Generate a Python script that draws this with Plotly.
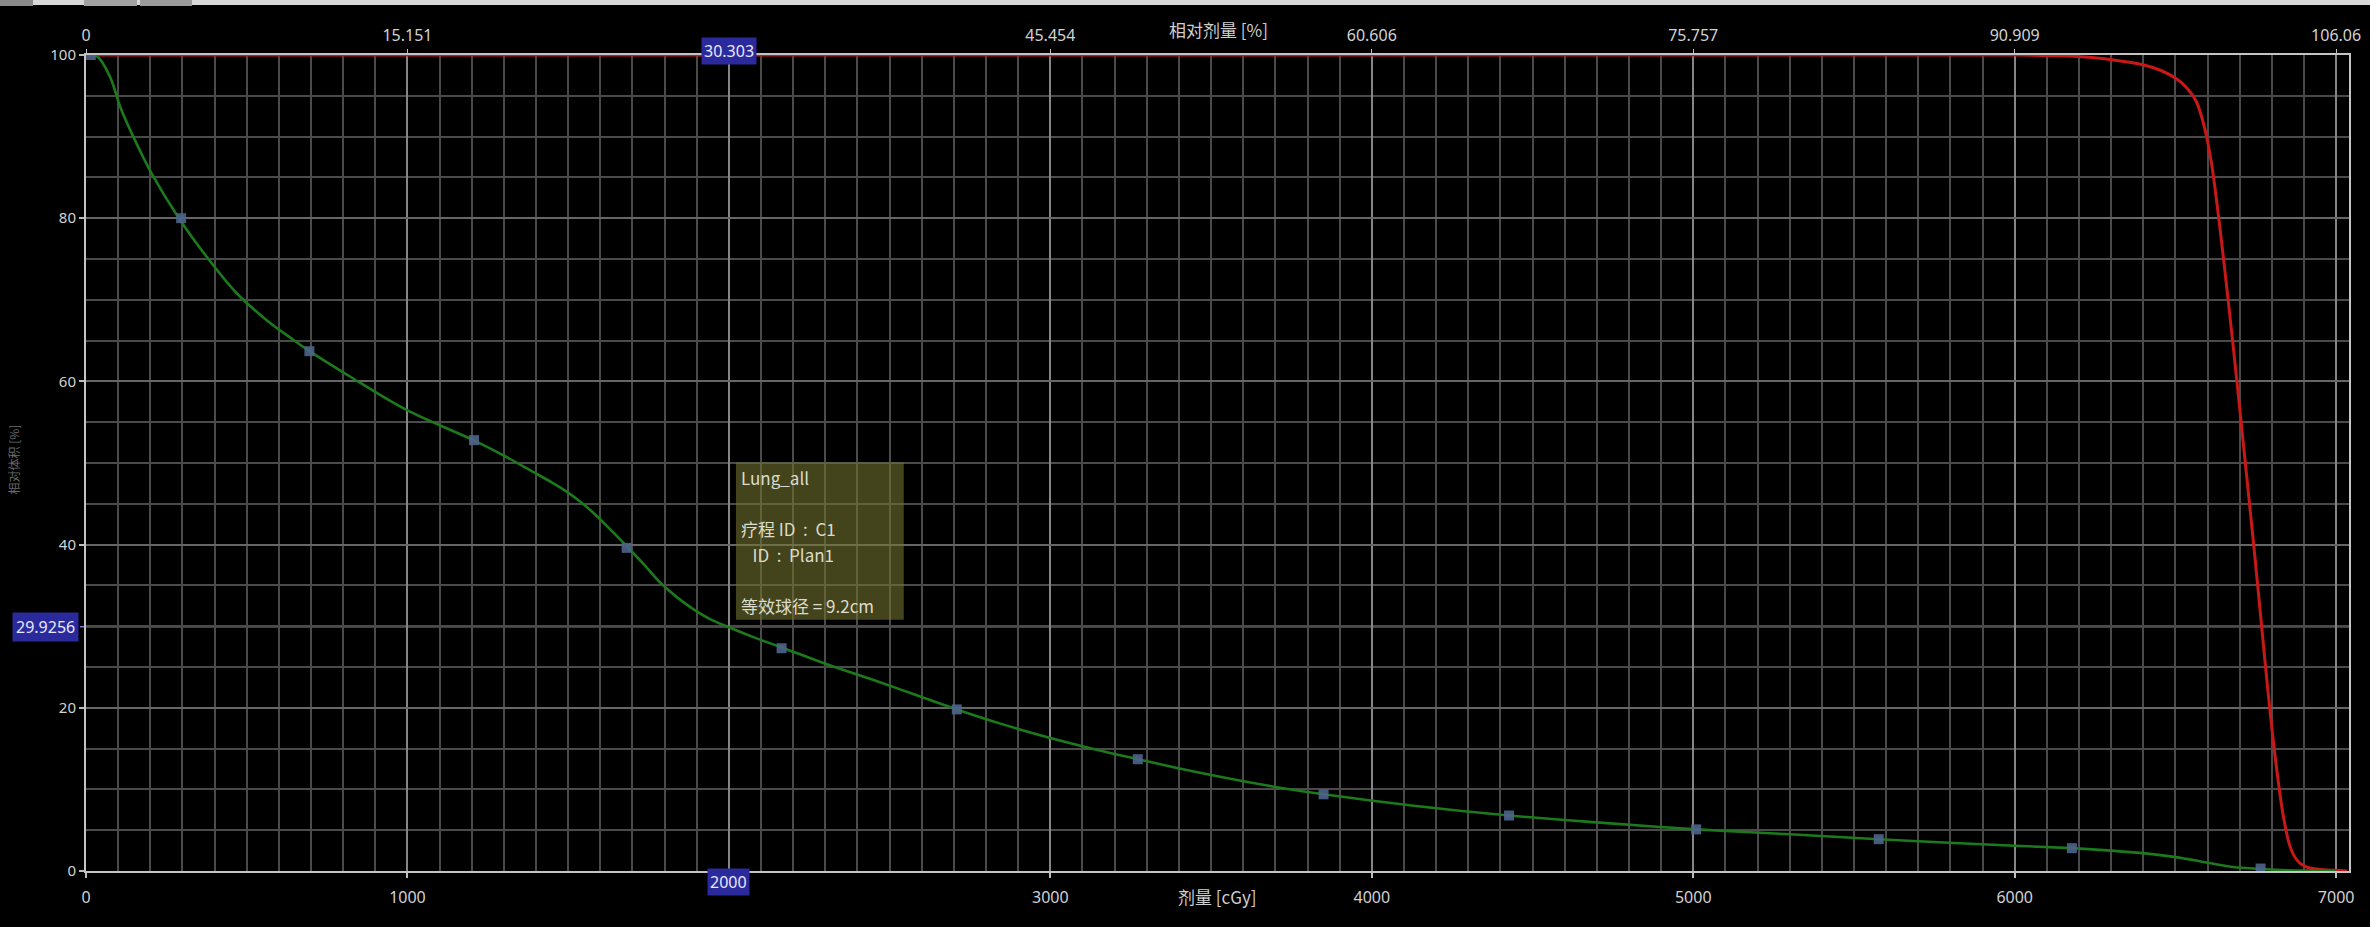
import plotly.graph_objects as go

# ---------------- data ----------------
# Green DVH curve (Lung_all): dose [cGy] -> volume [%]
lung_dose = [0, 35, 75, 106, 147, 204, 289, 375, 469, 562, 645, 692, 821, 997, 1205,
             1300, 1391, 1450, 1495, 1540, 1578, 1630, 1682, 1735, 1785, 1840, 1889,
             1940, 1998, 2080, 2164, 2300, 2450, 2580, 2709, 2850, 3000, 3140, 3272,
             3420, 3560, 3700, 3850, 4130, 4427, 4720, 5009, 5300, 5577, 5880, 6178,
             6300, 6420, 6500, 6575, 6630, 6679, 6769, 6850, 6917, 7000]
lung_vol = [100, 99.8, 97.3, 93.7, 90.0, 85.5, 80.0, 75.3, 70.8, 67.5, 65.1, 63.8, 60.6,
            56.5, 52.8, 50.9, 48.9, 47.6, 46.5, 45.2, 43.9, 41.9, 39.8, 37.6, 35.4, 33.5,
            32.1, 30.9, 29.9, 28.6, 27.4, 25.4, 23.4, 21.6, 19.8, 18.0, 16.3, 14.9, 13.7,
            12.4, 11.3, 10.3, 9.4, 8.0, 6.8, 5.9, 5.1, 4.5, 3.9, 3.3, 2.8, 2.5, 2.1, 1.7,
            1.2, 0.8, 0.5, 0.25, 0.1, 0.05, 0.0]

# Marker points on the green curve
lung_marker_dose = [15, 296, 695, 1207, 1682, 2164, 2709, 3272, 3850, 4427, 5009, 5577, 6178, 6765]
lung_marker_vol = [100, 80.0, 63.7, 52.8, 39.6, 27.3, 19.8, 13.7, 9.4, 6.8, 5.1, 3.9, 2.8, 0.3]

# Red DVH curve (target)
ptv_dose = [0, 6000, 6150, 6264, 6340, 6399, 6455, 6503, 6535, 6565, 6590, 6612, 6637,
            6664, 6690, 6718, 6746, 6767, 6788, 6814, 6835, 6855, 6870, 6886, 6905,
            6927, 6960, 7000, 7035]
ptv_vol = [100, 100, 99.9, 99.6, 99.2, 98.8, 98.1, 97.1, 96.0, 94.3, 91.2, 86.8, 79.3,
           70.0, 60.5, 49.8, 39.0, 30.5, 22.0, 12.8, 6.9, 3.2, 1.8, 1.0, 0.55, 0.3,
           0.15, 0.08, 0.0]

# Axis ticks
dose_ticks = [0, 1000, 2000, 3000, 4000, 5000, 6000, 7000]
dose_tick_labels = ["0", "1000", "", "3000", "4000", "5000", "6000", "7000"]
rel_ticks = [0, 15.1515, 30.303, 45.4545, 60.606, 75.7575, 90.909, 106.0606]
rel_tick_labels = ["0", "15.151", "", "45.454", "60.606", "75.757", "90.909", "106.06"]
vol_ticks = [0, 20, 40, 60, 80, 100]
vol_tick_labels = ["0", "20", "40", "60", "80", "100"]

# Cursor (crosshair) values
cursor_dose = 2000
cursor_rel_label = "30.303"
cursor_dose_label = "2000"
cursor_vol = 29.9256
cursor_vol_label = "29.9256"

# Info box
info_lines = ["Lung_all", "",
              "疗程 ID\u00a0\u00a0:\u00a0\u00a0C1",
              "\u00a0\u00a0\u00a0ID\u00a0\u00a0:\u00a0\u00a0Plan1", "",
              "等效球径\u00a0=\u00a09.2cm"]

top_title = "相对剂量 [%]"
bottom_title = "剂量 [cGy]"
y_title = "相对体积 [%]"

# ---------------- layout constants ----------------
W, H = 2370, 927
ML, MR, MT, MB = 86, 21, 55, 56
PLOT_W = W - ML - MR
PLOT_H = H - MT - MB
X_MAX = 7040
PRESCRIPTION = 6600

def py(pix):  # figure pixel y -> paper y
    return (H - MB - pix) / PLOT_H

def px(pix):  # figure pixel x -> paper x
    return (pix - ML) / PLOT_W

TICK_FONT = dict(family="Noto Sans, Open Sans, sans-serif", size=16, color="#d2d2d2")
CJK = "Noto Sans CJK SC, Noto Sans, sans-serif"
MAJOR_GRID = "#858585"
MINOR_GRID = "#4a4a4a"
CURSOR_COLOR = "#7a7ad8"
BOX_BG = "#2a2a9c"
LABEL_FONT = dict(family="Noto Sans, sans-serif", size=16, color="#e8e8ff")

fig = go.Figure()

fig.add_trace(go.Scatter(x=ptv_dose, y=ptv_vol, mode="lines",
                         line=dict(color="#c81818", width=3, shape="spline", smoothing=0.9),
                         hoverinfo="skip"))
fig.add_trace(go.Scatter(x=lung_dose, y=lung_vol, mode="lines",
                         line=dict(color="#1c7a1c", width=2.6, shape="spline", smoothing=1.0),
                         hoverinfo="skip"))
fig.add_trace(go.Scatter(x=lung_marker_dose, y=lung_marker_vol, mode="markers",
                         marker=dict(symbol="square", size=10, color="rgba(78,100,140,0.9)",
                                     line=dict(width=0)),
                         hoverinfo="skip"))
# trace on the top (relative dose) axis so it is drawn
fig.add_trace(go.Scatter(x=[rel_ticks[0]], y=[100], xaxis="x2", mode="markers",
                         marker=dict(opacity=0), hoverinfo="skip"))

axis_common = dict(showgrid=True, gridcolor=MAJOR_GRID, gridwidth=1.5, zeroline=False,
                   ticks="outside", ticklen=5, tickcolor="#bdbdbd", tickwidth=1.5,
                   tickfont=TICK_FONT, showline=True, linecolor="#c4c4c4", linewidth=2,
                   automargin=False)

fig.update_layout(
    width=W, height=H,
    paper_bgcolor="black", plot_bgcolor="black",
    margin=dict(l=ML, r=MR, t=MT, b=MB, autoexpand=False),
    showlegend=False,
    xaxis=dict(range=[0, X_MAX], tickmode="array", tickvals=dose_ticks, ticktext=dose_tick_labels,
               mirror=True, ticklabelstandoff=6,
               minor=dict(dtick=100, showgrid=True, gridcolor=MINOR_GRID, gridwidth=1.5, ticks=""),
               **axis_common),
    xaxis2=dict(range=[0, X_MAX / PRESCRIPTION * 100], overlaying="x", side="top", anchor="y",
                tickmode="array", tickvals=rel_ticks, ticktext=rel_tick_labels,
                showgrid=False, zeroline=False, showline=False, ticks="outside", ticklen=5,
                tickcolor="#bdbdbd", tickfont=TICK_FONT, ticklabelstandoff=2, automargin=False),
    yaxis=dict(range=[0, 100], tickmode="array", tickvals=vol_ticks, ticktext=vol_tick_labels,
               mirror=True,
               minor=dict(dtick=5, showgrid=True, gridcolor=MINOR_GRID, gridwidth=1.5, ticks=""),
               **{**axis_common, "tickfont": dict(TICK_FONT, size=15), "gridcolor": "#666666"}),
)

shapes = []
# info box
shapes.append(dict(type="rect", xref="x", yref="y", x0=2022, x1=2544, y0=30.8, y1=50.1,
                   fillcolor="rgba(118,118,48,0.58)", line=dict(width=0), layer="above"))
# crosshair lines
shapes.append(dict(type="line", xref="x", yref="paper", x0=cursor_dose, x1=cursor_dose,
                   y0=py(885), y1=py(46), line=dict(color=CURSOR_COLOR, width=1.6), layer="between"))
shapes.append(dict(type="line", xref="paper", yref="y", x0=px(80), x1=1, y0=cursor_vol, y1=cursor_vol,
                   line=dict(color=CURSOR_COLOR, width=1.6), layer="between"))
# UI strip at the very top
shapes.append(dict(type="rect", xref="paper", yref="paper", x0=px(0), x1=px(W), y0=py(5), y1=py(0),
                   fillcolor="#d8d8d8", line=dict(width=0)))
for a, b, c in [(0, 33, "#8a8a8a"), (84, 137, "#a2a2a2"), (140, 192, "#9a9a9a")]:
    shapes.append(dict(type="rect", xref="paper", yref="paper", x0=px(a), x1=px(b), y0=py(6), y1=py(0),
                       fillcolor=c, line=dict(width=0)))
fig.update_layout(shapes=shapes)

ann = []
# cursor labels
ann.append(dict(text=cursor_rel_label, xref="x", x=cursor_dose, yref="paper", y=py(37),
                showarrow=False, bgcolor=BOX_BG, borderpad=2, font=LABEL_FONT))
ann.append(dict(text=cursor_dose_label, xref="x", x=cursor_dose, yref="paper", y=py(896),
                showarrow=False, bgcolor=BOX_BG, borderpad=2, font=LABEL_FONT))
ann.append(dict(text=cursor_vol_label, xref="paper", x=0, xanchor="right", xshift=-7,
                yref="y", y=cursor_vol, showarrow=False, bgcolor=BOX_BG, borderpad=3,
                font=LABEL_FONT))
# info lines
for i, line in enumerate(info_lines):
    if line:
        ann.append(dict(text=line, xref="x", x=2031, xanchor="left", yref="y", y=48.2 - i * 3.13,
                        yanchor="middle", showarrow=False,
                        font=dict(family=CJK, size=17, color="#dcdccc")))
# axis titles
ann.append(dict(text=top_title, xref="paper", x=px(1218), yref="paper", y=py(15), showarrow=False,
                font=dict(family=CJK, size=17, color="#cfcfcf")))
ann.append(dict(text=bottom_title, xref="paper", x=px(1217), yref="paper", y=py(911), showarrow=False,
                font=dict(family=CJK, size=17, color="#cfcfcf")))
ann.append(dict(text=y_title, xref="paper", x=px(2), xanchor="left", yref="paper", y=py(460),
                showarrow=False, textangle=-90,
                font=dict(family=CJK, size=12, color="#6a6a6a")))
fig.update_layout(annotations=ann)

fig.write_html(
    "out.html",
    config={"displayModeBar": False},
    post_script="document.body.style.margin='0';document.body.style.background='black';"
                "document.body.style.overflow='hidden';",
)
